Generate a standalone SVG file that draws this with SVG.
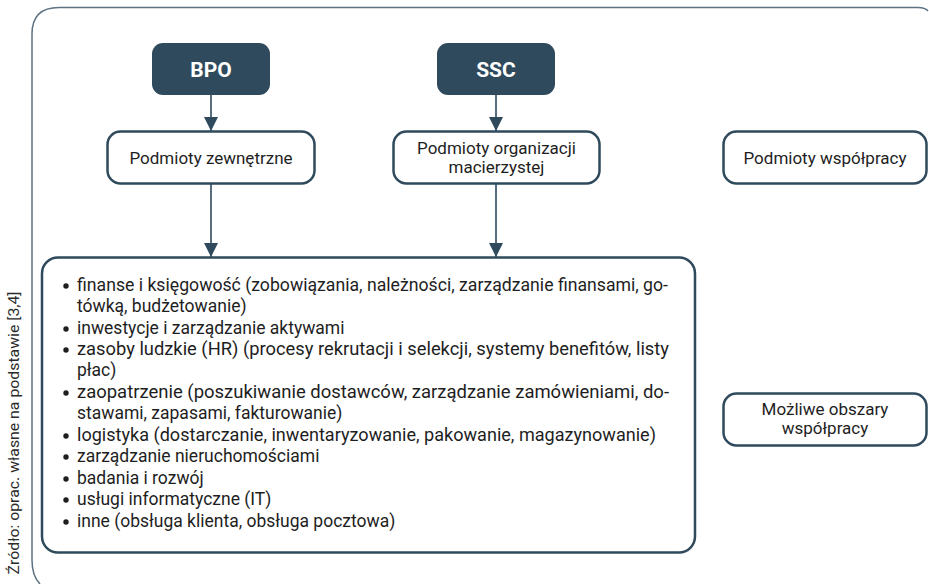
<svg xmlns="http://www.w3.org/2000/svg" width="929" height="584" viewBox="0 0 929 584">
<style>
.dark{fill:#2f4a5c;stroke:none}
.box{fill:#fff;stroke:#2f4a5c;stroke-width:2.5}
.t{font-family:Roboto,"Liberation Sans",sans-serif;font-size:17px;fill:#1e1e1e}
.l{font-size:17.5px}
.c{text-anchor:middle}
.w{font-family:Roboto,"Liberation Sans",sans-serif;font-size:21px;font-weight:bold;fill:#fff;text-anchor:middle}
.conn{stroke:#2f4a5c;stroke-width:1.6;fill:none}
.b{fill:#1e1e1e}
</style>
<defs>
<marker id="ah2" viewBox="0 0 14 14" refX="14" refY="7" markerWidth="14" markerHeight="14" markerUnits="userSpaceOnUse" orient="auto">
<path d="M0,0 L14,7 L0,14 z" fill="#2f4a5c"/>
</marker>
</defs>
<rect width="929" height="584" fill="#fff"/>
<path d="M40,584 Q32,576 32,560 L32,34 Q32,7.5 59,7.5 L918,7.5 Q925,7.5 928,11" fill="none" stroke="#5d7282" stroke-width="1.5"/>
<text class="t" transform="translate(19,433) rotate(-90)" text-anchor="middle" style="font-size:14.5px;fill:#2a2a2a" textLength="283" lengthAdjust="spacingAndGlyphs">Źródło: oprac. własne na podstawie [3,4]</text>

<g id="conns">
<line class="conn" x1="211" y1="95" x2="211" y2="131" marker-end="url(#ah2)"/>
<line class="conn" x1="496" y1="95" x2="496" y2="131" marker-end="url(#ah2)"/>
<line class="conn" x1="211" y1="184" x2="211" y2="257" marker-end="url(#ah2)"/>
<line class="conn" x1="496" y1="184" x2="496" y2="257" marker-end="url(#ah2)"/>
</g>

<g id="bpo">
<rect class="dark" x="152" y="43" width="118" height="52" rx="11"/>
<text class="w" x="211" y="77">BPO</text>
</g>
<g id="ssc">
<rect class="dark" x="437" y="43" width="118" height="52" rx="11"/>
<text class="w" x="496" y="77">SSC</text>
</g>
<g id="zewnetrzne">
<rect class="box" x="107.5" y="131.5" width="207" height="52" rx="13"/>
<text class="t c" x="211" y="164">Podmioty zewnętrzne</text>
</g>
<g id="macierzystej">
<rect class="box" x="393.5" y="131.5" width="206" height="52" rx="13"/>
<text class="t c" x="496.5" y="154">Podmioty organizacji</text>
<text class="t c" x="496.5" y="173">macierzystej</text>
</g>
<g id="wspolpracy">
<rect class="box" x="723.5" y="131.5" width="203" height="52" rx="13"/>
<text class="t c" x="825" y="164">Podmioty współpracy</text>
</g>
<g id="obszary">
<rect class="box" x="723.5" y="393.5" width="203" height="52" rx="13"/>
<text class="t c" x="825" y="415">Możliwe obszary</text>
<text class="t c" x="825" y="434">współpracy</text>
</g>
<g id="lista">
<rect class="box" x="42" y="257.5" width="653" height="295" rx="16"/>
<g class="t l">
<circle class="b" cx="66" cy="286" r="2.7"/>
<text x="77" y="291" textLength="591" lengthAdjust="spacingAndGlyphs">finanse i księgowość (zobowiązania, należności, zarządzanie finansami, go-</text>
<text x="77" y="312">tówką, budżetowanie)</text>
<circle class="b" cx="66" cy="329" r="2.7"/>
<text x="77" y="334">inwestycje i zarządzanie aktywami</text>
<circle class="b" cx="66" cy="350" r="2.7"/>
<text x="77" y="355" textLength="592" lengthAdjust="spacingAndGlyphs">zasoby ludzkie (HR) (procesy rekrutacji i selekcji, systemy benefitów, listy</text>
<text x="77" y="376">płac)</text>
<circle class="b" cx="66" cy="393" r="2.7"/>
<text x="77" y="398" textLength="592" lengthAdjust="spacingAndGlyphs">zaopatrzenie (poszukiwanie dostawców, zarządzanie zamówieniami, do-</text>
<text x="77" y="419">stawami, zapasami, fakturowanie)</text>
<circle class="b" cx="66" cy="436" r="2.7"/>
<text x="77" y="441" textLength="579" lengthAdjust="spacingAndGlyphs">logistyka (dostarczanie, inwentaryzowanie, pakowanie, magazynowanie)</text>
<circle class="b" cx="66" cy="457" r="2.7"/>
<text x="77" y="462">zarządzanie nieruchomościami</text>
<circle class="b" cx="66" cy="479" r="2.7"/>
<text x="77" y="484">badania i rozwój</text>
<circle class="b" cx="66" cy="500" r="2.7"/>
<text x="77" y="505">usługi informatyczne (IT)</text>
<circle class="b" cx="66" cy="522" r="2.7"/>
<text x="77" y="527">inne (obsługa klienta, obsługa pocztowa)</text>
</g>
</g>
</svg>
